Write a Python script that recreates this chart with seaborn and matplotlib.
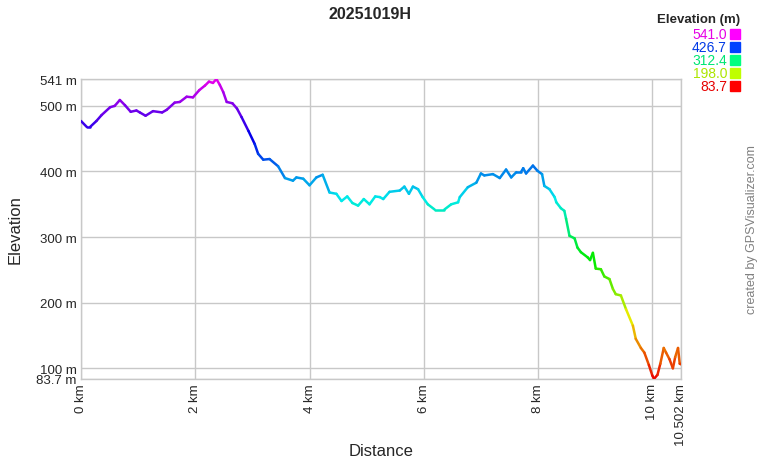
import numpy as np
import matplotlib
matplotlib.use("Agg")
import matplotlib.pyplot as plt
import matplotlib.colors as mcolors
from matplotlib.collections import LineCollection
import seaborn as sns

# profile (km, m)
distance_km = [0.00, 0.10, 0.16, 0.27, 0.36, 0.51, 0.59, 0.68, 0.77, 0.87, 0.97, 1.03,
               1.13, 1.26, 1.42, 1.50, 1.64, 1.73, 1.85, 1.96, 2.07, 2.17, 2.24, 2.31,
               2.37, 2.43, 2.49, 2.55, 2.65, 2.73, 2.81, 2.93, 3.04, 3.10, 3.19, 3.30,
               3.45, 3.57, 3.71, 3.77, 3.89, 4.00, 4.12, 4.23, 4.35, 4.47, 4.56, 4.66,
               4.75, 4.85, 4.95, 5.05, 5.15, 5.23, 5.29, 5.40, 5.58, 5.66, 5.74, 5.81,
               5.90, 5.98, 6.07, 6.19, 6.36, 6.48, 6.60, 6.63, 6.77, 6.92, 7.00, 7.06,
               7.21, 7.33, 7.44, 7.53, 7.62, 7.70, 7.74, 7.79, 7.91, 7.99, 8.07, 8.11,
               8.20, 8.29, 8.32, 8.40, 8.46, 8.49, 8.55, 8.64, 8.69, 8.75, 8.87, 8.91,
               8.96, 9.01, 9.10, 9.16, 9.25, 9.31, 9.36, 9.45, 9.54, 9.66, 9.71, 9.80,
               9.86, 9.94, 10.00, 10.03, 10.09, 10.14, 10.20, 10.24, 10.30, 10.36, 10.40,
               10.45, 10.48, 10.502]
elevation_m = [477, 468, 468, 477, 486, 498, 500, 509, 501, 491, 493, 490,
               485, 492, 490, 494, 505, 506, 514, 513, 524, 531, 537, 535,
               541, 532, 521, 506, 504, 496, 483, 462, 442, 427, 418, 419,
               408, 390, 386, 391, 389, 379, 391, 395, 368, 366, 355, 362,
               352, 348, 358, 350, 362, 361, 358, 369, 371, 377, 366, 377,
               373, 361, 350, 342, 342, 350, 353, 361, 376, 383, 397, 394,
               396, 390, 403, 391, 399, 399, 405, 397, 409, 401, 396, 378,
               373, 361, 353, 344, 340, 328, 302, 298, 284, 277, 269, 265,
               276, 252, 251, 240, 236, 221, 213, 211, 190, 165, 145, 131,
               124, 105, 89, 84, 90, 107, 131, 124, 114, 100, 117,
               131, 107, 106]

y_ticks = [83.7, 100, 200, 300, 400, 500, 541]
x_ticks = [0, 2, 4, 6, 8, 10, 10.502]
legend_values = [541.0, 426.7, 312.4, 198.0, 83.7]

elev_min, elev_max = 83.7, 541.0


def elev_color(v, value=0.92):
    # hue runs red (low) -> magenta (high)
    frac = (v - elev_min) / (elev_max - elev_min)
    return mcolors.hsv_to_rgb((frac * 300 / 360, 1.0, value))


sns.set_style("white")
plt.rcParams["font.family"] = ["Liberation Sans", "DejaVu Sans"]

fig = plt.figure(figsize=(7.6, 4.6), dpi=100)
ax = fig.add_axes([81 / 760, 80 / 460, 600 / 760, 300 / 460])

x = np.array(distance_km)
y = np.array(elevation_m, dtype=float)
pts = np.column_stack([x, y]).reshape(-1, 1, 2)
segs = np.concatenate([pts[:-1], pts[1:]], axis=1)
seg_colors = [elev_color((a + b) / 2) for a, b in zip(y[:-1], y[1:])]
ax.add_collection(LineCollection(segs, colors=seg_colors, linewidth=1.8,
                                 capstyle="round", joinstyle="round", zorder=3))

ax.set_xlim(0, 10.502)
ax.set_ylim(elev_min, elev_max)
ax.set_yticks(y_ticks)
ax.set_yticklabels([f"{t:g} m" for t in y_ticks], fontsize=9.5)
ax.set_xticks(x_ticks)
ax.set_xticklabels([f"{t:g} km" for t in x_ticks], rotation=90, fontsize=9.5)
ax.tick_params(length=0, pad=3)
ax.grid(True, color="#c8c8c8", linewidth=1)
for s in ax.spines.values():
    s.set_color("#c8c8c8")
    s.set_linewidth(1)

ax.set_ylabel("Elevation", fontsize=12, labelpad=10)
ax.set_xlabel("Distance", fontsize=12)
ax.xaxis.set_label_coords(0.5, -0.215)

fig.text(0.487, 0.968, "20251019H", ha="center", va="center",
         fontsize=11.5, fontweight="bold")

# elevation colour key
fig.text(740 / 760, 1 - 20 / 460, "Elevation (m)", ha="right", va="center",
         fontsize=9.5, fontweight="bold")
for i, v in enumerate(legend_values):
    yy = 1 - (35 + 13 * i) / 460
    c = elev_color(v, value=1.0)
    fig.text(727 / 760, yy, f"{v:.1f}", ha="right", va="center", fontsize=10,
             color=elev_color(v, value=0.9))
    fig.patches.append(plt.Rectangle((730 / 760, yy - 5 / 460), 10 / 760, 10 / 460,
                                     transform=fig.transFigure, color=c))

fig.text(752 / 760, 1 - 230 / 460, "created by GPSVisualizer.com", rotation=90,
         ha="center", va="center", fontsize=9, color="#808080")

fig.savefig("out.png", dpi=100)
